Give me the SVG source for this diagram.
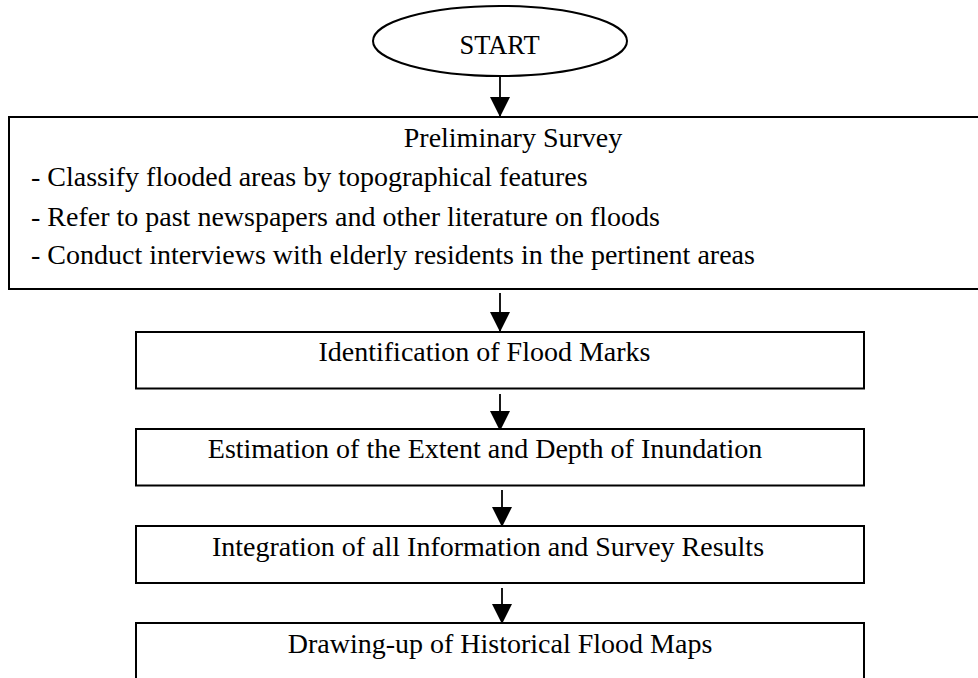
<svg xmlns="http://www.w3.org/2000/svg" width="978" height="678" viewBox="0 0 978 678">
  <style>
    .shape { fill: #ffffff; stroke: #000000; stroke-width: 2; }
    .label { font-family: "Liberation Serif", "Times New Roman", serif; font-size: 28px; fill: #000000; }
    .mid { text-anchor: middle; }
    .conn { stroke: #000000; stroke-width: 1.8; fill: none; marker-end: url(#head); }
  </style>
  <defs>
    <marker id="head" viewBox="0 0 20 20" markerWidth="20" markerHeight="20" markerUnits="userSpaceOnUse" refX="20" refY="10" orient="auto">
      <path d="M0,0 L20,10 L0,20 z" fill="#000000"/>
    </marker>
  </defs>
  <rect width="978" height="678" fill="#ffffff"/>

  <g id="connectors">
    <line class="conn" x1="500" y1="76" x2="500" y2="117"/>
    <line class="conn" x1="500" y1="293" x2="500" y2="332"/>
    <line class="conn" x1="500" y1="394" x2="500" y2="431"/>
    <line class="conn" x1="502" y1="490" x2="502" y2="527"/>
    <line class="conn" x1="502" y1="588" x2="502" y2="624"/>
  </g>

  <g id="start">
    <ellipse class="shape" cx="500" cy="41" rx="127" ry="35"/>
    <text class="label mid" x="499.5" y="54" style="font-size:26.5px">START</text>
  </g>

  <g id="preliminary-survey">
    <rect class="shape" x="9" y="117" width="1010" height="172"/>
    <text class="label mid" x="513" y="147">Preliminary Survey</text>
    <text class="label" x="31" y="186">- Classify flooded areas by topographical features</text>
    <text class="label" x="31" y="225.5">- Refer to past newspapers and other literature on floods</text>
    <text class="label" x="31" y="264">- Conduct interviews with elderly residents in the pertinent areas</text>
  </g>

  <g id="flood-marks">
    <rect class="shape" x="136" y="332" width="728" height="56.5"/>
    <text class="label mid" x="484.5" y="361">Identification of Flood Marks</text>
  </g>

  <g id="inundation">
    <rect class="shape" x="136" y="429" width="728" height="56.5"/>
    <text class="label mid" x="485" y="458">Estimation of the Extent and Depth of Inundation</text>
  </g>

  <g id="integration">
    <rect class="shape" x="136" y="526" width="728" height="57"/>
    <text class="label mid" x="488" y="555.5">Integration of all Information and Survey Results</text>
  </g>

  <g id="flood-maps">
    <rect class="shape" x="136" y="623" width="728" height="70"/>
    <text class="label mid" x="500" y="653">Drawing-up of Historical Flood Maps</text>
  </g>
</svg>
